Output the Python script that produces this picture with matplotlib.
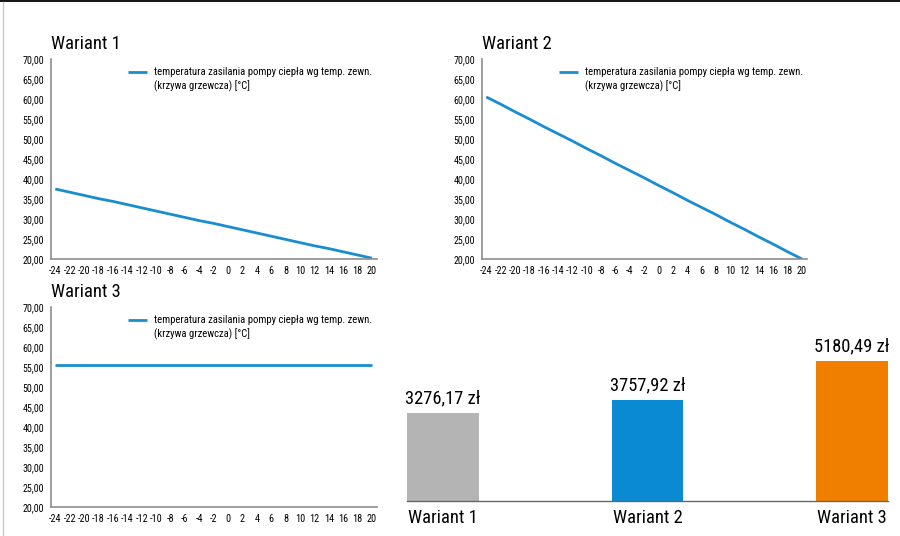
import matplotlib
matplotlib.use("Agg")
import numpy as np
import matplotlib.pyplot as plt
from matplotlib.lines import Line2D
from matplotlib.legend_handler import HandlerLine2D

plt.rcParams['font.family'] = ['Roboto Condensed', 'Liberation Sans', 'DejaVu Sans']

# ---- data ----
temps = [-24, -22, -20, -18, -16, -14, -12, -10, -8, -6, -4, -2, 0, 2, 4, 6, 8, 10, 12, 14, 16, 18, 20]
wariant1 = [37.5, 36.7, 35.9, 35.1, 34.4, 33.6, 32.8, 32.0, 31.2, 30.4, 29.6, 28.9,
            28.1, 27.3, 26.5, 25.7, 24.9, 24.1, 23.3, 22.6, 21.8, 21.0, 20.2]
wariant2 = [60.5, 58.7, 56.8, 55.0, 53.1, 51.3, 49.5, 47.6, 45.8, 43.9, 42.1, 40.3,
            38.4, 36.6, 34.7, 32.9, 31.1, 29.2, 27.4, 25.5, 23.7, 21.8, 20.0]
wariant3 = [55.5] * 23
y_ticks = [20, 25, 30, 35, 40, 45, 50, 55, 60, 65, 70]
line_titles = ["Wariant 1", "Wariant 2", "Wariant 3"]
legend_label = "temperatura zasilania pompy ciepła wg temp. zewn.\n(krzywa grzewcza) [°C]"

bar_categories = ["Wariant 1", "Wariant 2", "Wariant 3"]
bar_values = [3276.17, 3757.92, 5180.49]
bar_labels = ["3276,17 zł", "3757,92 zł", "5180,49 zł"]
bar_colors = ["#b4b4b4", "#0a8ad3", "#f07f00"]
line_color = "#1a8dd0"

W, H = 900, 536
fig = plt.figure(figsize=(9, 5.36), dpi=100)


class FirstLineHandler(HandlerLine2D):
    """Legend line aligned with the first line of a two-line label."""
    def create_artists(self, legend, orig_handle, xdescent, ydescent, width,
                       height, fontsize, trans):
        artists = super().create_artists(legend, orig_handle, xdescent, ydescent,
                                         width, height, fontsize, trans)
        for a in artists:
            if isinstance(a, Line2D):
                a.set_ydata(np.asarray(a.get_ydata()) + fontsize * 0.68)
        return artists


def px_axes(left, right, top, bottom):
    return fig.add_axes([left / W, 1 - bottom / H, (right - left) / W, (bottom - top) / H])


def line_panel(ax, values, title):
    ln, = ax.plot(temps, values, color=line_color, lw=2.0, solid_capstyle='butt',
                  label=legend_label)
    ax.set_xlim(-24.6, 20.7)
    ax.set_ylim(20, 70)
    ax.set_yticks(y_ticks)
    ax.set_yticklabels([f"{v},00" for v in y_ticks])
    ax.set_xticks(temps)
    ax.set_xticklabels([str(t) for t in temps])
    for s in ['top', 'right']:
        ax.spines[s].set_visible(False)
    for s in ['left', 'bottom']:
        ax.spines[s].set_color('#8c8c8c')
        ax.spines[s].set_linewidth(1.2)
    ax.tick_params(axis='y', length=0, pad=5, labelsize=7.2)
    ax.tick_params(axis='x', length=0, pad=5, labelsize=7.4)
    ax.set_title(title, loc='left', fontsize=13.3, pad=7, x=0.0)
    leg = ax.legend(loc='upper left', bbox_to_anchor=(0.236, 0.958), frameon=False,
                    fontsize=7.7, handlelength=1.8, handletextpad=0.62, borderpad=0,
                    borderaxespad=0, handler_map={ln: FirstLineHandler()})
    for t in leg.get_texts():
        t.set_linespacing(1.3)


ax1 = px_axes(51, 377, 59, 259)
line_panel(ax1, wariant1, line_titles[0])
ax2 = px_axes(482, 807, 59, 259)
line_panel(ax2, wariant2, line_titles[1])
ax3 = px_axes(51, 377, 307, 507)
line_panel(ax3, wariant3, line_titles[2])

# ---- bar chart ----
axb = px_axes(407, 888, 340, 500.7)
bw = 0.352
xs = list(range(len(bar_categories)))
bars = axb.bar(xs, bar_values, width=bw, color=bar_colors)
axb.set_xlim(-bw / 2, 2 + bw / 2)
axb.set_ylim(0, 5976)
axb.bar_label(bars, labels=bar_labels, padding=4, fontsize=13.3)
axb.set_xticks(xs)
axb.set_xticklabels(bar_categories, fontsize=13.3)
axb.set_yticks([])
for s in ['top', 'right', 'left']:
    axb.spines[s].set_visible(False)
axb.spines['bottom'].set_color('#666666')
axb.spines['bottom'].set_linewidth(1.0)
axb.tick_params(axis='x', length=0, pad=6)

# frame edges of the original picture
fig.add_artist(Line2D([0, 1], [1 - 0.8 / H, 1 - 0.8 / H], color='black', lw=1.3,
                      transform=fig.transFigure))
fig.add_artist(Line2D([2.5 / W, 2.5 / W], [0, 1 - 2 / H], color='#c8c8c8', lw=1.0,
                      transform=fig.transFigure))

fig.savefig("out.png", dpi=100)
